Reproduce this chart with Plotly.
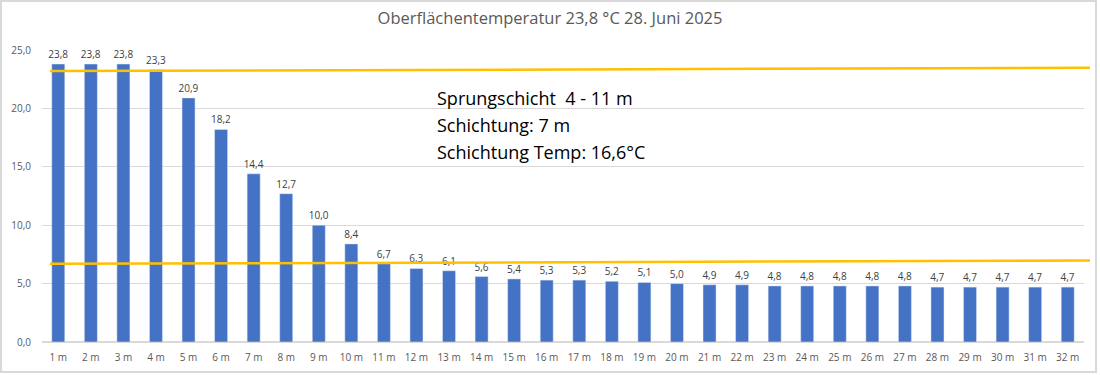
import plotly.graph_objects as go

depths = [f"{i} m" for i in range(1, 33)]
temps = [23.8, 23.8, 23.8, 23.3, 20.9, 18.2, 14.4, 12.7, 10.0, 8.4, 6.7, 6.3, 6.1, 5.6,
         5.4, 5.3, 5.3, 5.2, 5.1, 5.0, 4.9, 4.9, 4.8, 4.8, 4.8, 4.8, 4.8, 4.7, 4.7, 4.7, 4.7, 4.7]
y_ticks = [0, 5, 10, 15, 20, 25]
upper_line_y = [23.2, 23.47]
lower_line_y = [6.69, 6.97]
title_text = "Oberflächentemperatur 23,8 °C 28. Juni 2025"
info_lines = ["Sprungschicht  4 - 11 m", "Schichtung: 7 m", "Schichtung Temp: 16,6°C"]

W, H = 1100, 375
ml, mr, mt, mb = 42, 16, 50, 33
pw, ph = W - ml - mr, H - mt - mb

fig = go.Figure()
fig.add_trace(go.Bar(
    x=depths, y=temps, marker_color="#4472C4",
    text=[f"{v:.1f}".replace(".", ",") for v in temps],
    textposition="outside", constraintext="none",
    textfont=dict(size=10, color="#404040", family="Open Sans"),
    cliponaxis=False, showlegend=False, hoverinfo="x+y",
))

font_family = "Open Sans"
fig.update_layout(
    width=W, height=H,
    margin=dict(l=ml, r=mr, t=mt, b=mb),
    paper_bgcolor="white", plot_bgcolor="white",
    separators=",.",
    bargap=0.6,
    title=dict(text=title_text, x=0.5, xanchor="center", y=1 - 18 / H, yanchor="middle",
               font=dict(size=16.5, color="#595959", family=font_family)),
    xaxis=dict(showgrid=False, showline=False, ticks="outside", ticklen=6, tickcolor="rgba(0,0,0,0)",
               automargin=False, tickfont=dict(size=10, color="#595959", family=font_family)),
    yaxis=dict(range=[0, 25], tickvals=y_ticks, tickformat=".1f", showgrid=True, gridcolor="#D9D9D9",
               gridwidth=1, zeroline=True, zerolinecolor="#D9D9D9",
               ticks="outside", ticklen=8, tickcolor="rgba(0,0,0,0)", automargin=False,
               tickfont=dict(size=10, color="#595959", family=font_family)),
)

# yellow annotation lines
for ys in (upper_line_y, lower_line_y):
    fig.add_shape(type="line", xref="paper", yref="y",
                  x0=(50 - ml) / pw, x1=(1090 - ml) / pw, y0=ys[0], y1=ys[1],
                  line=dict(color="#FFC000", width=2.5))

# info text
for i, t in enumerate(info_lines):
    fig.add_annotation(text=t, xref="paper", yref="paper", x=(435 - ml) / pw,
                       y=1 - (98 + 27 * i - mt) / ph, xanchor="left", yanchor="middle",
                       showarrow=False, font=dict(size=18, color="black", family=font_family))

# outer border
fig.add_shape(type="rect", xref="paper", yref="paper",
              x0=(1 - ml) / pw, x1=(1096 - ml) / pw, y0=-(372 - mt - ph) / ph, y1=1 + (mt - 1) / ph,
              line=dict(color="#D9D9D9", width=2), fillcolor="rgba(0,0,0,0)", layer="below")

fig.write_html("out.html", config={"displayModeBar": False},
               post_script="document.body.style.margin='0';")
